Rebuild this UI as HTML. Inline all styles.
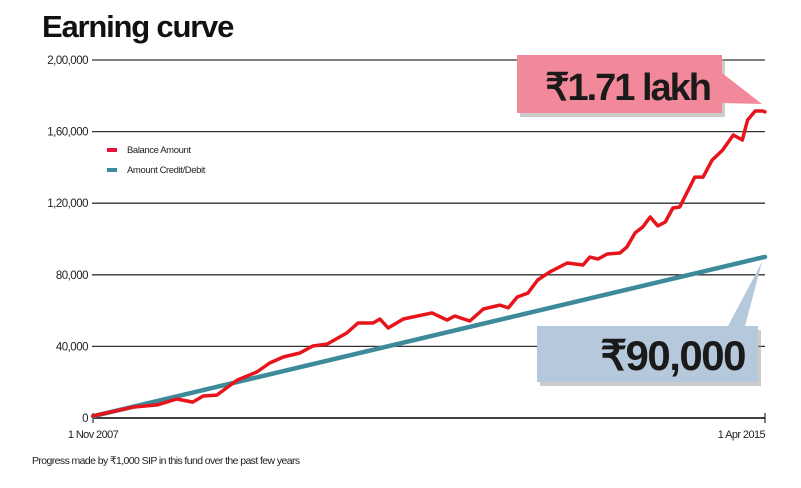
<!DOCTYPE html>
<html><head><meta charset="utf-8"><style>
html,body{margin:0;padding:0;background:#fff;}
svg text{font-family:"Liberation Sans",sans-serif;}
</style></head><body>
<svg width="801" height="483" viewBox="0 0 801 483" xmlns="http://www.w3.org/2000/svg">
<text x="42" y="37" font-size="31" font-weight="bold" fill="#111" letter-spacing="-1.2">Earning curve</text>
<g id="grid"></g>
<g id="series"></g>
<g>
 <rect x="107" y="148" width="10" height="4" fill="#e8143c"/>
 <text x="127" y="153" font-size="9.5" fill="#222" letter-spacing="-0.4">Balance Amount</text>
 <rect x="107" y="168" width="10" height="4" fill="#3d8a9a"/>
 <text x="127" y="173" font-size="9.5" fill="#222" letter-spacing="-0.4">Amount Credit/Debit</text>
</g>
<g>
 <polygon points="520,59 725,59 725,117 520,117" fill="#999" opacity="0.5"/>
 <polygon points="517,55 722,55 722,73 762,104 722,103 722,113 517,113" fill="#f2899a"/>
 <text x="710" y="100" font-size="38" font-weight="bold" fill="#1a1a1a" text-anchor="end" letter-spacing="-2">₹1.71 lakh</text>
</g>
<g>
 <polygon points="540,330 761,330 761,386 540,386" fill="#999" opacity="0.5"/>
 <polygon points="537,326 728,326 762,262 745,326 758,326 758,382 537,382" fill="#b5c8dc"/>
 <text x="745" y="370" font-size="42" font-weight="bold" fill="#1a1a1a" text-anchor="end" letter-spacing="-1.5">₹90,000</text>
</g>
<text x="93" y="438" font-size="11" fill="#222" text-anchor="middle" letter-spacing="-0.6">1 Nov 2007</text>
<text x="765" y="438" font-size="11" fill="#222" text-anchor="end" letter-spacing="-0.6">1 Apr 2015</text>
<text x="32" y="464" font-size="10.5" fill="#222" letter-spacing="-0.6">Progress made by ₹1,000 SIP in this fund over the past few years</text>
</svg>
<script>
const yTicks=[0,40000,80000,120000,160000,200000];
const yTickLabels=["0","40,000","80,000","1,20,000","1,60,000","2,00,000"];
const balanceMonths=[0,5.3,8.5,11.1,13.2,14.6,16.4,19.1,21.7,23.4,25.2,27.4,29.1,31,33.6,35.1,37.1,38,39.1,41.1,44.9,46.9,47.9,49.9,51.7,53.9,55,56.2,57.6,58.9,60.5,62.8,64.9,65.8,66.9,68.1,69.8,70.7,71.8,72.8,73.8,74.8,75.8,76.8,77.7,79.7,80.8,82,83.4,84.8,86,86.7,87.7,88.7,89];
const balanceValues=[1100,6100,7300,10600,8900,12300,12800,21200,25700,30700,34100,36300,40200,41300,47500,53100,53100,55300,50300,55300,58700,54700,57000,54200,60900,63100,61500,67600,69800,77100,81600,86600,85500,89900,88800,91600,92200,95500,103400,106700,112300,107300,109500,117300,117900,134600,134600,144100,149700,158100,155300,166500,171500,171500,171000];
const creditMonths=[0,89];
const creditValues=[1000,90000];
const NS="http://www.w3.org/2000/svg";
const X0=93,X1=765,Y0=418,Y1=60,MMAX=89,VMAX=200000;
function xs(m){return X0+(m/MMAX)*(X1-X0);}
function ys(v){return Y0-(v/VMAX)*(Y0-Y1);}
const grid=document.getElementById('grid');
yTicks.forEach((t,i)=>{
 const l=document.createElementNS(NS,'line');
 l.setAttribute('x1',i===0?X0:X0-1);l.setAttribute('x2',X1);
 l.setAttribute('y1',ys(t));l.setAttribute('y2',ys(t));
 l.setAttribute('stroke',i===0?'#000':'#333');l.setAttribute('stroke-width',i===0?1.6:1.3);
 
 
 grid.appendChild(l);
 const tx=document.createElementNS(NS,'text');
 tx.setAttribute('x',88);tx.setAttribute('y',ys(t)+4);
 tx.setAttribute('text-anchor','end');tx.setAttribute('font-size','11.5');tx.setAttribute('fill','#222');
 tx.setAttribute('letter-spacing','-0.5');
 tx.textContent=yTickLabels[i];
 
 
 grid.appendChild(tx);
});
[X0,X1].forEach(x=>{
 const k=document.createElementNS(NS,'line');
 k.setAttribute('x1',x);k.setAttribute('x2',x);k.setAttribute('y1',Y0-5);k.setAttribute('y2',Y0+5);
 k.setAttribute('stroke','#000');k.setAttribute('stroke-width',1);
 
 
 grid.appendChild(k);
});
const ser=document.getElementById('series');
function line(ms,vs,color,w,name){
 const p=document.createElementNS(NS,'polyline');
 p.setAttribute('points',ms.map((m,i)=>xs(m).toFixed(1)+','+ys(vs[i]).toFixed(1)).join(' '));
 p.setAttribute('fill','none');p.setAttribute('stroke',color);p.setAttribute('stroke-width',w);
 p.setAttribute('stroke-linejoin','round');p.setAttribute('stroke-linecap','round');
 
 
 ser.appendChild(p);
}
line(creditMonths,creditValues,'#3d8a9a',4.5,'credit-line');
line(balanceMonths,balanceValues,'#e8141c',3.5,'balance-line');
</script>
</body></html>
